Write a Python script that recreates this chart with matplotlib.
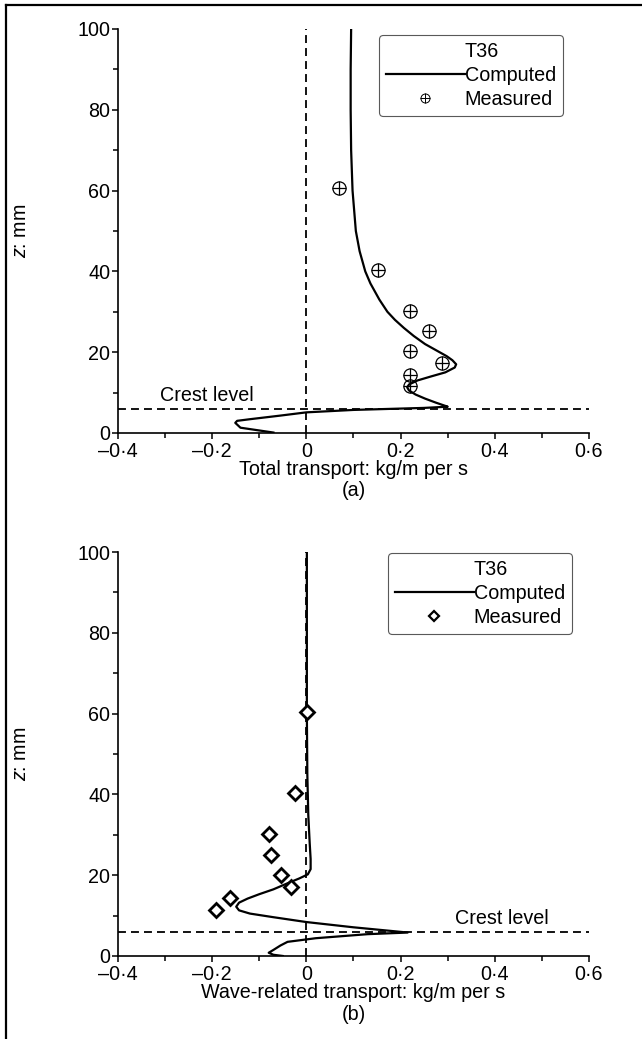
import matplotlib.pyplot as plt
from matplotlib.lines import Line2D
from matplotlib.ticker import MultipleLocator, FuncFormatter
from matplotlib.legend_handler import HandlerTuple

plt.rcParams['font.family'] = ['Liberation Sans', 'DejaVu Sans']
plt.rcParams['font.size'] = 14.2
plt.rcParams['mathtext.fontset'] = 'custom'
plt.rcParams['mathtext.it'] = 'Liberation Sans:italic'
plt.rcParams['mathtext.rm'] = 'Liberation Sans'

######################################
# Dados
######################################

crest_level = 6.0

# (a) total transport, computed
total_x = [0.095, 0.094, 0.094, 0.095, 0.098, 0.105, 0.113, 0.125, 0.136, 0.155,
           0.172, 0.188, 0.207, 0.228, 0.252, 0.275, 0.298, 0.310, 0.318, 0.315,
           0.295, 0.265, 0.236, 0.218, 0.214, 0.218, 0.232, 0.252, 0.275, 0.295,
           0.300, 0.250, 0.100, 0.000, -0.055, -0.120, -0.147, -0.151, -0.140,
           -0.105, -0.070]
total_z = [100, 90, 80, 70, 60, 50, 45, 40, 37, 33,
           30, 28, 26, 24, 22, 20.5, 19, 18, 17, 16.2,
           15, 14, 13, 12, 11.3, 10.5, 9.5, 8.5, 7.5, 6.7,
           6.5, 6.2, 5.7, 5.1, 4.3, 3.4, 3.0, 2.5, 1.3,
           0.7, 0.1]

# (a) measured
total_meas_x = [0.069, 0.151, 0.221, 0.261, 0.221, 0.289, 0.221, 0.221]
total_meas_z = [60.7, 40.4, 30.3, 25.3, 20.2, 17.3, 14.4, 11.5]

# (b) wave-related transport, computed
wave_x = [0.001, 0.001, 0.002, 0.004, 0.007, 0.009, 0.009, 0.003, -0.015, -0.040,
          -0.070, -0.100, -0.125, -0.143, -0.149, -0.143, -0.120, -0.070, 0.000, 0.100,
          0.180, 0.215, 0.130, 0.020, -0.040, -0.055, -0.070, -0.080, -0.070, -0.050]
wave_z = [100, 60, 45, 35, 28, 24, 21.5, 20.2, 19.2, 18,
          16.5, 15.3, 14.2, 13.2, 12.2, 11.3, 10.5, 9.6, 8.4, 7.1,
          6.2, 5.8, 5.4, 4.4, 3.5, 2.6, 1.5, 0.8, 0.3, 0.0]

# (b) measured
wave_meas_x = [0.001, -0.025, -0.080, -0.076, -0.054, -0.033, -0.163, -0.192]
wave_meas_z = [60.5, 40.4, 30.3, 25.1, 20.0, 17.0, 14.3, 11.3]

xlabels = ['Total transport: kg/m per s', 'Wave-related transport: kg/m per s']
panel_tags = ['(a)', '(b)']
series_name = 'T36'


def fmt_x(v, pos):
    if abs(v) < 1e-9:
        return '0'
    s = f'{abs(v):.1f}'.replace('.', '\u00b7')
    return ('\u2013' + s) if v < 0 else s


def style_axes(ax):
    ax.set_xlim(-0.4, 0.6)
    ax.set_ylim(0, 100)
    for side in ['top', 'right']:
        ax.spines[side].set_visible(False)
    for side in ['left', 'bottom']:
        ax.spines[side].set_linewidth(1.2)
    ax.xaxis.set_major_locator(MultipleLocator(0.2))
    ax.xaxis.set_minor_locator(MultipleLocator(0.1))
    ax.yaxis.set_major_locator(MultipleLocator(20))
    ax.yaxis.set_minor_locator(MultipleLocator(10))
    ax.xaxis.set_major_formatter(FuncFormatter(fmt_x))
    ax.tick_params(which='major', length=4.5, width=1.1, direction='out', pad=1.0)
    ax.tick_params(which='minor', length=3.5, width=1.1, direction='out')
    ax.tick_params(axis='x', which='major', pad=2.2)
    ax.set_ylabel('$z$: mm')
    ax.yaxis.set_label_coords(-0.187, 0.5)
    ax.axvline(0, color='black', lw=1.3, dashes=(4.4, 2.8), zorder=1)
    ax.axhline(crest_level, color='black', lw=1.3, dashes=(4.4, 2.8), zorder=1)


######################################
# Figura
######################################

fig = plt.figure(figsize=(6.42, 10.39), dpi=100)
ax1 = fig.add_axes([0.1838, 0.5833, 0.7336, 0.3888])
ax2 = fig.add_axes([0.1838, 0.0799, 0.7336, 0.3888])

# moldura (recorte da pagina)
fig.add_artist(Line2D([0.0093, 0.0093], [0, 0.9952], transform=fig.transFigure, color='black', lw=1.6))
fig.add_artist(Line2D([0.0093, 1], [0.9952, 0.9952], transform=fig.transFigure, color='black', lw=1.6))

blank = Line2D([], [], linestyle='none')

# (a)
style_axes(ax1)
line1, = ax1.plot(total_x, total_z, color='black', lw=1.6, zorder=3)
ax1.plot(total_meas_x, total_meas_z, linestyle='none', marker='o', ms=9.5,
         mfc='none', mec='black', mew=0.9, zorder=4)
ax1.plot(total_meas_x, total_meas_z, linestyle='none', marker='+', ms=9.5,
         mec='black', mew=0.9, zorder=4)
ax1.text(-0.31, 9.2, 'Crest level', va='center', ha='left')
h_o = Line2D([], [], linestyle='none', marker='o', ms=6.5, mfc='none', mec='black', mew=0.7)
h_p = Line2D([], [], linestyle='none', marker='+', ms=6.5, mec='black', mew=0.7)
leg1 = ax1.legend([blank, line1, (h_o, h_p)], [series_name, 'Computed', 'Measured'],
                  handler_map={tuple: HandlerTuple(ndivide=1)},
                  loc='upper right', bbox_to_anchor=(563 / 642, 1 - 35 / 1039),
                  bbox_transform=fig.transFigure, handlelength=4.0, handletextpad=0.0,
                  labelspacing=0.25, borderpad=0.35, borderaxespad=0, fancybox=True,
                  framealpha=1, edgecolor='0.35')
leg1.get_frame().set_linewidth(0.8)
ax1.text(0.5, -0.09, xlabels[0], transform=ax1.transAxes, ha='center', va='center')
ax1.text(0.5, -0.142, panel_tags[0], transform=ax1.transAxes, ha='center', va='center')

# (b)
style_axes(ax2)
line2, = ax2.plot(wave_x, wave_z, color='black', lw=1.6, zorder=3)
ax2.plot(wave_meas_x, wave_meas_z, linestyle='none', marker='D', ms=7.5,
         mfc='white', mec='black', mew=2.0, zorder=4)
ax2.text(0.316, 9.3, 'Crest level', va='center', ha='left')
h_d = Line2D([], [], linestyle='none', marker='D', ms=5, mfc='white', mec='black', mew=1.6)
leg2 = ax2.legend([blank, line2, h_d], [series_name, 'Computed', 'Measured'],
                  loc='upper right', bbox_to_anchor=(572 / 642, 1 - 553 / 1039),
                  bbox_transform=fig.transFigure, handlelength=4.0, handletextpad=0.0,
                  labelspacing=0.25, borderpad=0.35, borderaxespad=0, fancybox=True,
                  framealpha=1, edgecolor='0.35')
leg2.get_frame().set_linewidth(0.8)
ax2.text(0.5, -0.09, xlabels[1], transform=ax2.transAxes, ha='center', va='center')
ax2.text(0.5, -0.146, panel_tags[1], transform=ax2.transAxes, ha='center', va='center')

plt.savefig('out.png', dpi=100)
